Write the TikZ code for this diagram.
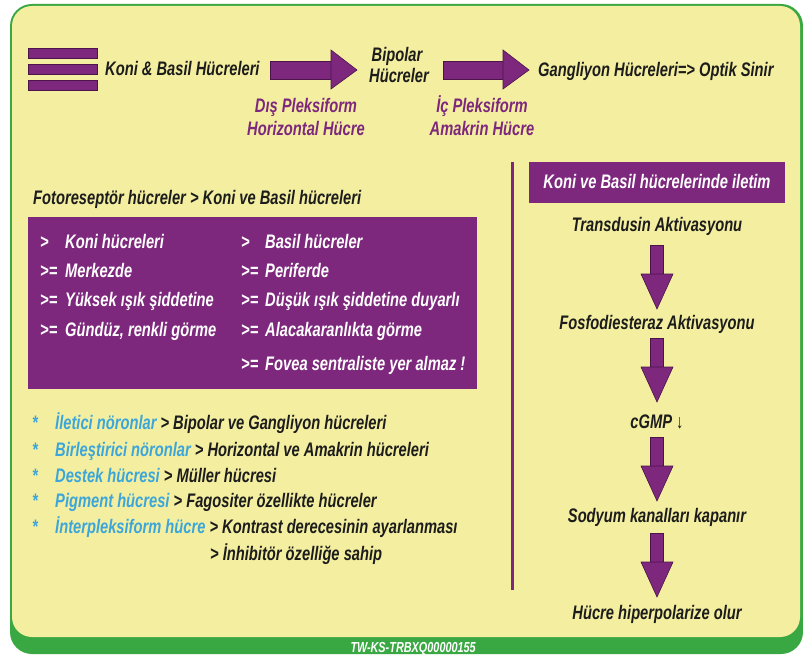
\documentclass[tikz,border=0pt]{standalone}
\usepackage{fontspec}
\setmainfont{Liberation Sans}[FakeStretch=0.75]

\definecolor{panel}{RGB}{244,239,160}
\definecolor{leaf}{RGB}{58,168,66}
\definecolor{plum}{RGB}{125,40,125}
\definecolor{plumdark}{RGB}{75,20,75}
\definecolor{sky}{RGB}{60,166,218}
\definecolor{ink}{RGB}{28,28,28}

\tikzset{
  txt/.style={inner sep=0pt, text=ink, font=\fontsize{19.6}{22}\selectfont\bfseries\itshape},
  wtxt/.style={txt, text=white},
  ptxt/.style={txt, text=plum},
  blockarrow/.style={fill=plum, draw=plumdark, line width=0.6pt}
}

\begin{document}
\begin{tikzpicture}[x=1pt,y=-1pt]
            \useasboundingbox (0,0) rectangle (803,655);
            \fill[white] (0,0) rectangle (803,655);
            % frame
            \fill[leaf, rounded corners=22pt] (10,4) rectangle (803,654);
            \fill[panel, rounded corners=20pt] (12,6) rectangle (800,637);
            \node[inner sep=0pt, anchor=base east, text=white, font=\fontsize{14.5}{16}\selectfont\bfseries\itshape] (kod) at (476,652) {TW-KS-TRBXQ00000155};

            % top row
            \foreach \y in {48,64,80}
                \filldraw[blockarrow] (28,\y) rectangle (97,\y+10.5);
            \node[txt, anchor=base west] (konibasil) at (105,76) {Koni \& Basil Hücreleri};
            \filldraw[blockarrow] (270,61) rectangle (331,79);
            \filldraw[blockarrow] (331,50) -- (357,70) -- (331,89) -- cycle;
            \node[txt, anchor=base] (bipolar) at (397,61.5) {Bipolar};
            \node[txt, anchor=base] (hucreler) at (399,82.5) {Hücreler};
            \filldraw[blockarrow] (443,61) rectangle (503,79);
            \filldraw[blockarrow] (503,50) -- (529,70) -- (503,89) -- cycle;
            \node[txt, anchor=base west] (gangliyon) at (538,76.5) {Gangliyon Hücreleri=> Optik Sinir};
            \node[ptxt, anchor=base] (displek) at (306,112.5) {Dış Pleksiform};
            \node[ptxt, anchor=base] (horizontal) at (306,135.5) {Horizontal Hücre};
            \node[ptxt, anchor=base] (icplek) at (482,112.5) {İç Pleksiform};
            \node[ptxt, anchor=base] (amakrin) at (482,135.5) {Amakrin Hücre};

            % left: photoreceptors
            \node[txt, anchor=base west] (fotoreseptor) at (33,205) {Fotoreseptör hücreler > Koni ve Basil hücreleri};
            \fill[plum] (28,217) rectangle (477,389);
            \node[wtxt, anchor=base west] (k1) at (40,248.5) {>};
            \node[wtxt, anchor=base west] (koni) at (65,248.5) {Koni hücreleri};
            \node[wtxt, anchor=base west] (k2) at (40,277.5) {>=};
            \node[wtxt, anchor=base west] (merkez) at (65,277.5) {Merkezde};
            \node[wtxt, anchor=base west] (k3) at (40,306.5) {>=};
            \node[wtxt, anchor=base west] (yuksek) at (65,306.5) {Yüksek ışık şiddetine};
            \node[wtxt, anchor=base west] (k4) at (40,336.5) {>=};
            \node[wtxt, anchor=base west] (gunduz) at (65,336.5) {Gündüz, renkli görme};
            \node[wtxt, anchor=base west] (b1) at (241,248.5) {>};
            \node[wtxt, anchor=base west] (basil) at (265,248.5) {Basil hücreler};
            \node[wtxt, anchor=base west] (b2) at (241,277.5) {>=};
            \node[wtxt, anchor=base west] (periferde) at (265,277.5) {Periferde};
            \node[wtxt, anchor=base west] (b3) at (241,306.5) {>=};
            \node[wtxt, anchor=base west] (dusuk) at (265,306.5) {Düşük ışık şiddetine duyarlı};
            \node[wtxt, anchor=base west] (b4) at (241,336.5) {>=};
            \node[wtxt, anchor=base west] (alaca) at (265,336.5) {Alacakaranlıkta görme};
            \node[wtxt, anchor=base west] (b5) at (241,370.5) {>=};
            \node[wtxt, anchor=base west] (fovea) at (265,370.5) {Fovea sentraliste yer almaz !};

            % left: neuron list
            \foreach \y in {429.5,456.5,482.5,507.5,533.5}
                \node[txt, text=sky, anchor=base west] at (32,\y) {*};
            \node[txt, anchor=base west] (iletici) at (55,429.5) {{\color{sky}İletici nöronlar} > Bipolar ve Gangliyon hücreleri};
            \node[txt, anchor=base west] (birlestirici) at (55,456.5) {{\color{sky}Birleştirici nöronlar} > Horizontal ve Amakrin hücreleri};
            \node[txt, anchor=base west] (destek) at (55,482.5) {{\color{sky}Destek hücresi} > Müller hücresi};
            \node[txt, anchor=base west] (pigment) at (55,507.5) {{\color{sky}Pigment hücresi} > Fagositer özellikte hücreler};
            \node[txt, anchor=base west] (interpleks) at (55,533.5) {{\color{sky}İnterpleksiform hücre} > Kontrast derecesinin ayarlanması};
            \node[txt, anchor=base west] (inhibitor) at (210,560.5) {> İnhibitör özelliğe sahip};

            % right: transduction
            \draw[plum, line width=3pt] (512,162) -- (512,590);
            \fill[plum] (529,162) rectangle (785,203);
            \node[wtxt, anchor=base] (iletim) at (657,188.5) {Koni ve Basil hücrelerinde iletim};
            \node[txt, anchor=base] (transdusin) at (657,231.5) {Transdusin Aktivasyonu};
            \node[txt, anchor=base] (fosfo) at (657,329.5) {Fosfodiesteraz Aktivasyonu};
            \node[txt, anchor=base] (cgmp) at (657,428.5) {cGMP {\mdseries\upshape ↓}};
            \node[txt, anchor=base] (sodyum) at (657,522.5) {Sodyum kanalları kapanır};
            \node[txt, anchor=base] (hiperpol) at (657,619.5) {Hücre hiperpolarize olur};
            \foreach \t in {245,338,437,533} {
                \filldraw[blockarrow] (650.5,\t) rectangle (663.5,\t+29);
                \filldraw[blockarrow] (641,\t+29) -- (673,\t+29) -- (657,\t+64) -- cycle;
            }
        \end{tikzpicture}
\end{document}
